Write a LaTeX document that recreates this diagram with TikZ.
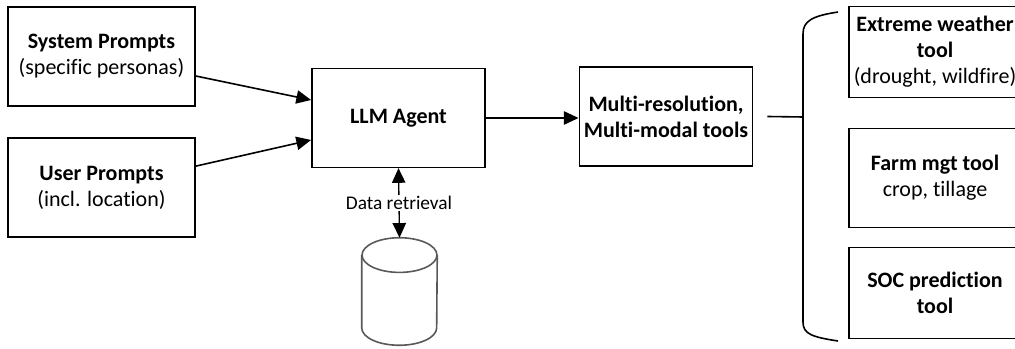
\documentclass[tikz,border=0pt]{standalone}
\usepackage{fontspec}
\setmainfont{Carlito}[Ligatures=NoCommon]
\usetikzlibrary{positioning,calc,arrows.meta,shapes.geometric}
\tikzstyle{element} = [rectangle, draw=black, line width=1.2pt, align=center, text centered, inner sep=2pt, font=\fontsize{16.5}{19.5}\selectfont]
\tikzstyle{arrow} = [line width=1.2pt, -{Triangle[length=11pt, width=10pt]}]
\tikzstyle{database} = [rectangle, minimum width=56.25pt, minimum height=80.25pt, inner sep=0pt]

\begin{document}
\begin{tikzpicture}[x=0.75pt, y=-0.75pt]
        \useasboundingbox (0,0) rectangle (1015,349);
        % Prompts ---------------------------------------------------------------------------------
        \node[element, minimum width=140pt, minimum height=74pt] (system) at (101.5,56.5) {\textbf{System Prompts}\\(specific personas)};
        \node[element, minimum width=140pt, minimum height=74pt] (user) at (101.5,187.5) {\textbf{User Prompts}\\(incl. location)};
        % Agent -----------------------------------------------------------------------------------
        \node[element, minimum width=130pt, minimum height=74pt] (agent) at (398.5,118) {\textbf{LLM Agent}};
        \node[database] (db) at (399.5,291.5) {};
        % Database outline
        \draw[black!65, line width=1.2pt] ([yshift=-13pt]db.north) ellipse [x radius=28.1pt, y radius=13pt];
        \draw[black!65, line width=1.2pt] ([yshift=-13pt]db.north west) -- ([yshift=13pt]db.south west)
            arc[start angle=180, end angle=360, x radius=28.1pt, y radius=13pt] -- ([yshift=-13pt]db.north east);
        % Tools -----------------------------------------------------------------------------------
        \node[element, minimum width=130pt, minimum height=74pt] (multi) at (666,116.5) {\textbf{Multi-resolution,}\\\textbf{Multi-modal tools}};
        \node[element, minimum width=129pt, minimum height=68pt] (weather) at (935,52) {\textbf{Extreme weather}\\\textbf{tool}\\(drought, wildfire)};
        \node[element, minimum width=129pt, minimum height=74pt] (farm) at (935,178) {\textbf{Farm mgt tool}\\crop, tillage};
        \node[element, minimum width=129pt, minimum height=68pt] (soc) at (935,293) {\textbf{SOC prediction}\\\textbf{tool}};
        % Brace
        \coordinate (brace) at (803,117);
        \draw[line width=1.2pt] ([xshift=10.5pt]multi.east) -- (brace);
        \draw[line width=1.2pt] (838,12) .. controls (812,16) and (803,21) .. (803,34) -- (803,322) .. controls (803,334) and (812,337) .. (838,341);
        % Arrows ----------------------------------------------------------------------------------
        \draw[arrow] ([yshift=-14.6pt]system.east) -- ([yshift=13.5pt]agent.west);
        \draw[arrow] ([yshift=16pt]user.east) -- ([yshift=-16.5pt]agent.west);
        \draw[arrow] (agent.east) -- (agent.east -| multi.west);
        \draw[arrow, line width=1pt, {Triangle[length=11pt, width=10pt]}-{Triangle[length=11pt, width=10pt]}] (agent.south) -- (db.north) node[midway, fill=white, inner sep=1pt, font=\fontsize{14.5}{16}\selectfont]{Data retrieval};
    \end{tikzpicture}
\end{document}
